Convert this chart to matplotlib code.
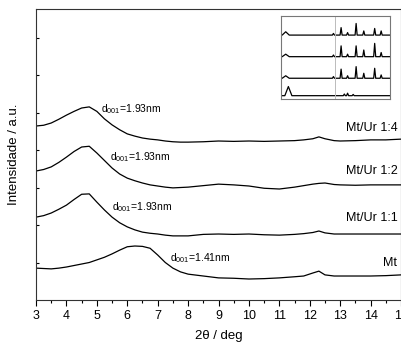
import matplotlib.pyplot as plt
import numpy as np

plt.rcParams['font.family'] = ['Liberation Sans', 'DejaVu Sans']

# main XRD curves (2theta, intensity with offset)
x_main = [3.0, 3.25, 3.5, 3.75, 4.0, 4.25, 4.5, 4.75, 5.0, 5.25, 5.5, 5.75, 6.0, 6.25, 6.5,
          6.75, 7.0, 7.25, 7.5, 7.75, 8.0, 8.5, 9.0, 9.5, 10.0, 10.5, 11.0, 11.5, 11.8, 12.1,
          12.3, 12.5, 12.8, 13.0, 13.5, 14.0, 14.5, 15.0]
y_14 = [4.64, 4.66, 4.72, 4.82, 4.93, 5.03, 5.12, 5.15, 5.03, 4.83, 4.67, 4.54, 4.43, 4.37, 4.32,
        4.29, 4.27, 4.24, 4.22, 4.21, 4.21, 4.22, 4.24, 4.23, 4.24, 4.23, 4.24, 4.25, 4.27, 4.30,
        4.35, 4.30, 4.25, 4.24, 4.25, 4.27, 4.27, 4.29]
y_12 = [3.44, 3.48, 3.55, 3.67, 3.81, 3.96, 4.08, 4.10, 3.92, 3.72, 3.52, 3.36, 3.25, 3.18, 3.12,
        3.07, 3.04, 3.01, 2.99, 3.00, 3.01, 3.05, 3.09, 3.07, 3.04, 2.98, 2.96, 3.01, 3.05, 3.09,
        3.11, 3.12, 3.08, 3.07, 3.06, 3.07, 3.07, 3.07]
y_11 = [2.21, 2.25, 2.32, 2.42, 2.53, 2.68, 2.82, 2.83, 2.61, 2.40, 2.21, 2.06, 1.95, 1.87, 1.81,
        1.78, 1.76, 1.73, 1.71, 1.71, 1.71, 1.75, 1.76, 1.75, 1.76, 1.74, 1.73, 1.75, 1.77, 1.80,
        1.84, 1.79, 1.76, 1.76, 1.76, 1.76, 1.76, 1.76]
y_mt = [0.85, 0.84, 0.83, 0.85, 0.88, 0.92, 0.96, 1.00, 1.07, 1.14, 1.23, 1.33, 1.42, 1.44, 1.43,
        1.38, 1.20, 1.00, 0.85, 0.75, 0.69, 0.64, 0.59, 0.58, 0.56, 0.57, 0.59, 0.62, 0.64, 0.72,
        0.77, 0.67, 0.64, 0.64, 0.64, 0.64, 0.65, 0.67]

curve_names = ['Mt/Ur 1:4', 'Mt/Ur 1:2', 'Mt/Ur 1:1', 'Mt']
name_y = [4.58, 3.45, 2.18, 0.98]
d_labels = ['1.93', '1.93', '1.93', '1.41']
d_pos = [(5.15, 5.09), (5.43, 3.81), (5.5, 2.48), (7.4, 1.12)]

# inset: baselines and peak lists (2theta, height)
inset_base = [0.77, 0.51, 0.25, 0.04]
inset_peaks = [
    [(4.6, 0.04), (20.8, 0.02), (23.4, 0.09), (25.6, 0.03), (28.5, 0.14), (31.1, 0.05), (34.8, 0.08), (37.0, 0.05)],
    [(4.6, 0.03), (20.8, 0.02), (23.4, 0.13), (25.6, 0.03), (28.5, 0.13), (31.1, 0.08), (34.8, 0.16), (37.0, 0.05)],
    [(4.6, 0.03), (20.8, 0.02), (23.4, 0.11), (25.6, 0.03), (28.5, 0.14), (31.1, 0.06), (34.8, 0.12), (37.0, 0.04)],
    [(5.5, 0.11), (24.5, 0.02), (25.6, 0.03), (27.5, 0.015)],
]

fig = plt.figure(figsize=(4.02, 3.45), dpi=100)
ax = fig.add_axes([0.0896, 0.1304, 0.908, 0.8435])

for yy in [y_14, y_12, y_11, y_mt]:
    ax.plot(x_main, yy, color='black', lw=0.9)

for name, ny in zip(curve_names, name_y):
    ax.text(14.88, ny, name, ha='right', va='center', fontsize=9)

for lab, (dx, dy) in zip(d_labels, d_pos):
    ax.text(dx, dy, r'd$_{\mathregular{001}}$=' + lab + 'nm', ha='left', va='center', fontsize=7.5)

ax.set_xlim(3, 15)
ax.set_ylim(0, 7.76)
ax.set_xticks(np.arange(3, 16, 1))
ax.set_xticks(np.arange(3.5, 15, 1), minor=True)
ax.set_xticklabels([str(v) for v in range(3, 16)], fontsize=9)
ax.set_yticks(np.arange(1, 8, 1))
ax.set_yticklabels([])
ax.tick_params(axis='x', which='major', direction='out', length=4, width=0.8, pad=3)
ax.tick_params(axis='x', which='minor', direction='out', length=2.5, width=0.8)
ax.tick_params(axis='y', direction='in', length=2, width=0.8)
for s in ax.spines.values():
    s.set_linewidth(0.8)
    s.set_color('#333333')
ax.set_xlabel('2θ / deg', fontsize=9.5, labelpad=6)
ax.set_ylabel('Intensidade / a.u.', fontsize=9.5, labelpad=8)

# inset
ins = fig.add_axes([281 / 402, (345 - 99) / 345, 109 / 402, 83 / 345])
for base, peaks in zip(inset_base, inset_peaks):
    px = [3.0]
    py = [base]
    for p, h in peaks:
        w = 1.2 if p < 10 else 0.35
        px += [p - w, p, p + w]
        py += [base, base + h, base]
    px.append(40.0)
    py.append(base)
    ins.plot(px, py, color='black', lw=0.9)
ins.axvline(21.5, color='#bbbbbb', lw=0.7)
ins.set_xlim(3, 40)
ins.set_ylim(0, 1)
ins.set_xticks([])
ins.set_yticks([])
for s in ins.spines.values():
    s.set_color('#777777')
    s.set_linewidth(0.8)

fig.savefig('out.png', dpi=100)
